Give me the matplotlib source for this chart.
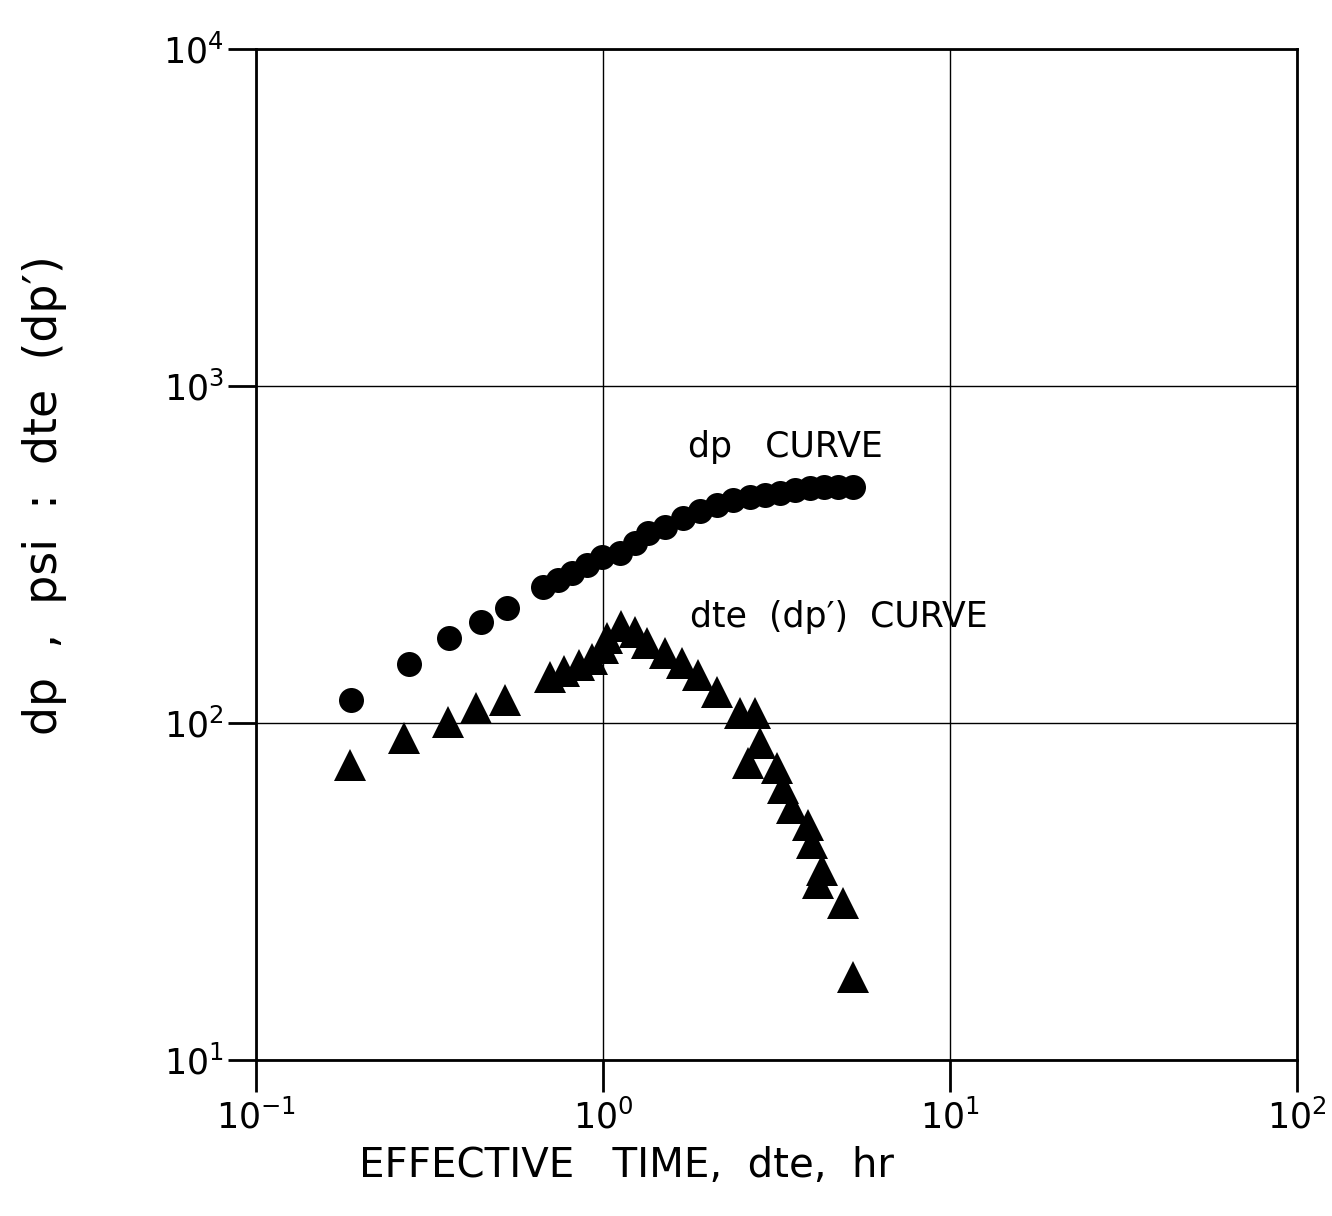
import numpy as np
import matplotlib
matplotlib.use("Agg")
import matplotlib.pyplot as plt

# dp curve (circles)
dp_t = [0.188, 0.276, 0.360, 0.445, 0.529, 0.672, 0.742, 0.814, 0.899, 0.993,
        1.12, 1.24, 1.35, 1.51, 1.70, 1.90, 2.13, 2.37, 2.65, 2.93,
        3.24, 3.57, 3.95, 4.34, 4.76, 5.25]
dp_val = [117, 150, 179, 200, 220, 253, 266, 279, 294, 311,
          320, 343, 367, 382, 406, 426, 444, 460, 469, 476,
          482, 492, 499, 502, 502, 502]

# dte (dp') curve (triangles)
der_t = [0.187, 0.267, 0.357, 0.431, 0.522, 0.703, 0.772, 0.853, 0.930, 1.00,
         1.03, 1.13, 1.24, 1.34, 1.51, 1.69, 1.88, 2.13, 2.48, 2.74,
         2.83, 2.62, 3.17, 3.30, 3.51, 3.90, 4.00, 4.27, 4.17, 4.92, 5.25]
der_val = [75.0, 90.2, 100.7, 110.8, 117, 137, 143, 149, 155, 167,
           179, 194, 186, 173, 161, 151, 139, 124, 107, 107,
           87.3, 76.0, 73.5, 64.1, 55.9, 49.8, 44.0, 36.6, 33.5, 29.2, 17.6]

xticks = [0.1, 1, 10, 100]
xtick_labels = ["$10^{-1}$", "$10^{0}$", "$10^{1}$", "$10^{2}$"]
yticks = [10, 100, 1000, 10000]
ytick_labels = ["$10^{1}$", "$10^{2}$", "$10^{3}$", "$10^{4}$"]

plt.rcParams['mathtext.default'] = 'regular'

fig = plt.figure(figsize=(13.32, 12.16), dpi=100)
ax = fig.add_axes([256/1332, 1-1060/1216, 1041/1332, 1011/1216])

ax.plot(dp_t, dp_val, 'o', color='black', ms=18, mew=0)
ax.plot(der_t, der_val, '^', color='black', ms=23, mew=0)

ax.set_xscale('log')
ax.set_yscale('log')
ax.set_xlim(0.1, 100)
ax.set_ylim(10, 10000)
ax.set_xticks(xticks)
ax.set_xticklabels(xtick_labels)
ax.set_yticks(yticks)
ax.set_yticklabels(ytick_labels)
ax.minorticks_off()
ax.tick_params(axis='x', which='major', direction='out', length=23, width=2,
               labelsize=25, pad=5)
ax.tick_params(axis='y', which='major', direction='out', length=20, width=2,
               labelsize=25, pad=3)
ax.grid(True, which='major', color='black', lw=1)
for s in ax.spines.values():
    s.set_linewidth(2)

ax.text(1.76, 661, "dp   CURVE", fontsize=25, ha='left', va='center')
ax.text(1.78, 206, "dte  (dp\u2032)  CURVE", fontsize=25, ha='left', va='center')

ax.set_xlabel("EFFECTIVE   TIME,  dte,  hr", fontsize=29)
ax.xaxis.set_label_coords(0.356, -0.085)
fig.text(45/1332, 1-495/1216, "dp  ,  psi  :  dte  (dp\u2032)", fontsize=33,
         rotation=90, ha='center', va='center')

fig.savefig("out.png", dpi=100)
